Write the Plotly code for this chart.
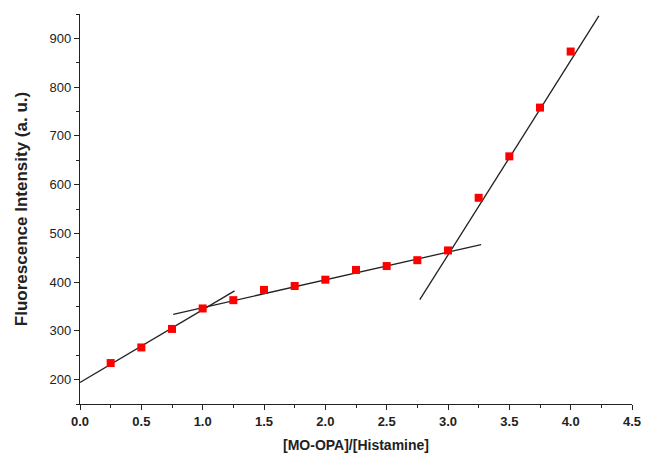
import plotly.graph_objects as go

ratio = [0.25, 0.5, 0.75, 1.0, 1.25, 1.5, 1.75, 2.0, 2.25, 2.5, 2.75, 3.0, 3.25, 3.5, 3.75, 4.0]
intensity = [234, 266, 304, 346, 363, 384, 392, 405, 425, 433, 445, 465, 573, 658, 758, 873]

fit1_x = [0.0, 1.26]
fit1_y = [194, 382]
fit2_x = [0.76, 3.27]
fit2_y = [334, 477]
fit3_x = [2.77, 4.23]
fit3_y = [364, 946]

fig = go.Figure()
for fx, fy in [(fit1_x, fit1_y), (fit2_x, fit2_y), (fit3_x, fit3_y)]:
    fig.add_trace(go.Scatter(x=fx, y=fy, mode="lines",
                             line=dict(color="#222222", width=1.3),
                             showlegend=False, hoverinfo="skip"))
fig.add_trace(go.Scatter(x=ratio, y=intensity, mode="markers",
                         marker=dict(symbol="square", size=8, color="#ff0000",
                                     line=dict(width=0)),
                         showlegend=False))

axis_common = dict(showline=True, linecolor="#222222", linewidth=1.3,
                   ticks="outside", ticklen=5, tickwidth=1.2, tickcolor="#222222",
                   showgrid=False, zeroline=False, mirror=False, automargin=False,
                   tickfont=dict(family="Liberation Sans, Arial", size=13, color="#222222"))

fig.update_xaxes(range=[0, 4.5], dtick=0.5, tickformat=".1f",
                 minor=dict(ticks="outside", ticklen=3, dtick=0.25, tickcolor="#222222", tickwidth=1),
                 title=dict(text="<b>[MO-OPA]/[Histamine]</b>",
                            font=dict(family="Liberation Sans, Arial", size=14, color="#222222"),
                            standoff=12),
                 **axis_common)
fig.update_yaxes(range=[150, 950], tickvals=[200, 300, 400, 500, 600, 700, 800, 900],
                 minor=dict(ticks="outside", ticklen=3, dtick=50, tickcolor="#222222", tickwidth=1),
                 title=dict(text="<b>Fluorescence Intensity (a. u.)</b>",
                            font=dict(family="Liberation Sans, Arial", size=17, color="#222222"),
                            standoff=17),
                 **axis_common)
fig.update_xaxes(tickprefix="<b>", ticksuffix="</b>")
fig.update_yaxes(tickprefix="<b>", ticksuffix="</b>")

fig.update_layout(width=646, height=456, plot_bgcolor="white", paper_bgcolor="white",
                  margin=dict(l=80, r=14, t=14, b=52), hovermode=False)
fig.write_html("out.html", config={"displayModeBar": False},
               post_script="document.body.style.margin='0';")
